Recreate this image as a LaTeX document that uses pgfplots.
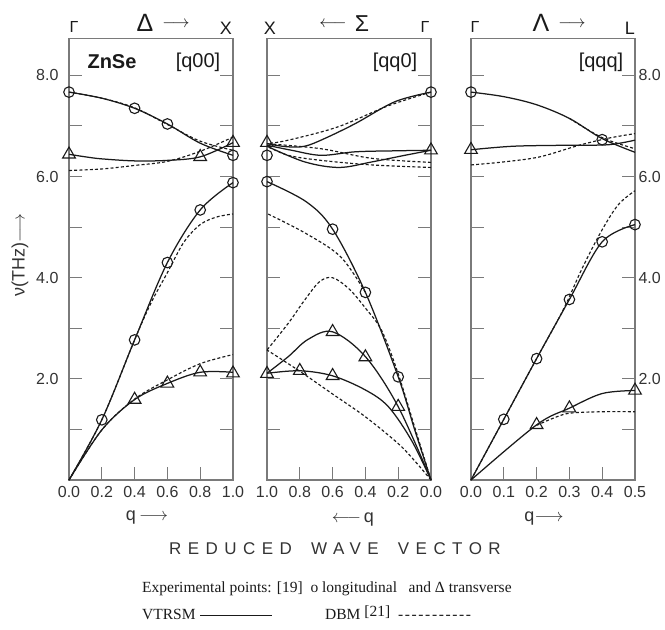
\documentclass[border=0pt]{standalone}
\usepackage{fix-cm}
\usepackage{fontspec}
\setmainfont{Liberation Serif}
\newfontfamily\arial{Liberation Sans}
\newfontfamily\arialsp[LetterSpace=38]{Liberation Sans}
\usepackage{pgfplots}
\pgfplotsset{compat=1.18}
\definecolor{frame}{HTML}{7A7A7A}
\definecolor{ink}{HTML}{1A1A1A}
\definecolor{lab}{HTML}{333333}
\newcommand{\fs}[1]{\fontsize{#1}{#1}\selectfont}
\pgfplotsset{
 panel/.style={scale only axis, width=164pt, height=441.5pt, ymin=0, ymax=8.73, xmin=0,
   clip=false, axis line style={frame, line width=1.1pt},
   tick style={frame, line width=1.0pt}, major tick length=13pt,
   tick align=inside, xtick pos=left, ytick pos=both,
   ytick={1,2,3,4,5,6,7,8},
   ticklabel style={font=\arial\fs{16}, text=lab},
   xticklabel style={yshift=-3pt},
   /pgf/number format/assume math mode=true},
 sol/.style={ink, line width=1.25pt, smooth, tension=0.55, mark=none},
 dsh/.style={ink, line width=1.15pt, smooth, tension=0.55, mark=none, dash pattern=on 3pt off 2.2pt},
 lp/.style={only marks, mark=o, mark size=5.3pt, mark options={ink, line width=1.1pt, solid}},
 tp/.style={only marks, mark=triangle, mark size=7.3pt, mark options={ink, line width=1.1pt, solid}},
}
\begin{document}
\begin{tikzpicture}
\useasboundingbox (0pt,0pt) rectangle (665pt,630pt);
% ---------- Panel 1 [q00]
\begin{axis}[panel, at={(69pt,150pt)}, anchor=south west, xmax=1,
  xtick={0,0.2,0.4,0.6,0.8,1}, xticklabels={0.0,0.2,0.4,0.6,0.8,1.0},
  yticklabel pos=left, ytick pos=both,
  yticklabels={,2.0,,4.0,,6.0,,8.0},
  yticklabel style={xshift=-7pt}]
\addplot[sol] coordinates {(0,7.67)(0.2,7.55)(0.4,7.35)(0.6,7.04)(0.8,6.66)(1,6.42)};
\addplot[dsh] coordinates {(0,7.67)(0.2,7.55)(0.4,7.36)(0.6,7.03)(0.8,6.70)(1,6.52)};
\addplot[sol] coordinates {(0,6.44)(0.1,6.39)(0.2,6.35)(0.4,6.31)(0.6,6.32)(0.8,6.39)(1,6.67)};
\addplot[dsh] coordinates {(0,6.12)(0.2,6.15)(0.4,6.22)(0.6,6.30)(0.8,6.50)(1,6.78)};
\addplot[sol] coordinates {(0,0)(0.2,1.19)(0.4,2.77)(0.6,4.30)(0.8,5.34)(1,5.88)};
\addplot[dsh] coordinates {(0,0)(0.2,1.19)(0.4,2.77)(0.5,3.50)(0.6,4.10)(0.7,4.70)(0.8,5.05)(0.9,5.20)(1,5.26)};
\addplot[sol] coordinates {(0,0)(0.2,0.99)(0.4,1.59)(0.6,1.91)(0.8,2.13)(1,2.13)};
\addplot[dsh] coordinates {(0,0)(0.2,0.99)(0.4,1.60)(0.6,1.98)(0.8,2.30)(1,2.48)};
\addplot[lp] coordinates {(0,7.67)(0.4,7.35)(0.6,7.04)(1,6.42)(1,5.88)(0.8,5.34)(0.6,4.30)(0.4,2.77)(0.2,1.19)};
\addplot[tp] coordinates {(0,6.44)(0.8,6.39)(1,6.67)(0.4,1.59)(0.6,1.91)(0.8,2.13)(1,2.11)};
\end{axis}
% ---------- Panel 2 [qq0]
\begin{axis}[panel, at={(267pt,150pt)}, anchor=south west, xmax=1, x dir=reverse,
  xtick={0,0.2,0.4,0.6,0.8,1}, xticklabels={0.0,0.2,0.4,0.6,0.8,1.0},
  yticklabels={,,,,,,,}]
\addplot[sol] coordinates {(0,7.67)(0.22,7.48)(0.46,7.05)(0.65,6.75)(0.77,6.60)(0.88,6.59)(1,6.65)};
\addplot[dsh] coordinates {(0,7.67)(0.26,7.40)(0.57,6.98)(0.87,6.72)(1,6.65)};
\addplot[sol] coordinates {(0,6.52)(0.2,6.51)(0.46,6.49)(0.67,6.42)(0.85,6.52)(1,6.62)};
\addplot[sol] coordinates {(0,6.52)(0.16,6.42)(0.36,6.29)(0.56,6.18)(0.77,6.29)(1,6.60)};
\addplot[dsh] coordinates {(0,6.28)(0.36,6.36)(0.67,6.55)(1,6.65)};
\addplot[dsh] coordinates {(0,6.18)(0.36,6.23)(0.67,6.32)(0.87,6.42)(1,6.60)};
\addplot[sol] coordinates {(0,0)(0.1,1.00)(0.2,2.04)(0.4,3.71)(0.6,4.96)(0.76,5.50)(1,5.90)};
\addplot[dsh] coordinates {(0.4,3.71)(0.55,4.41)(0.76,4.87)(1,5.27)};
\addplot[dsh] coordinates {(0,0)(0.1,1.05)(0.2,2.10)(0.3,2.95)(0.4,3.40)(0.5,3.78)(0.6,4.00)(0.68,3.92)(0.77,3.56)(0.87,3.10)(1,2.57)};
\addplot[dsh] coordinates {(0,0)(0.1,0.38)(0.2,0.72)(0.4,1.25)(0.6,1.70)(0.8,2.15)(1,2.57)};
\addplot[sol] coordinates {(0,0)(0.2,1.45)(0.4,2.44)(0.6,2.93)(0.75,2.78)(0.87,2.44)(1,2.11)};
\addplot[sol] coordinates {(0,0)(0.12,0.79)(0.26,1.45)(0.4,1.78)(0.6,2.06)(0.8,2.16)(1,2.11)};
\addplot[lp] coordinates {(0,7.67)(1,6.42)(1,5.90)(0.6,4.96)(0.4,3.71)(0.2,2.04)};
\addplot[tp] coordinates {(1,6.67)(0,6.52)(0.6,2.93)(0.4,2.43)(0.2,1.45)(1,2.10)(0.8,2.16)(0.6,2.06)};
\end{axis}
% ---------- Panel 3 [qqq]
\begin{axis}[panel, at={(471pt,150pt)}, anchor=south west, xmax=0.5,
  xtick={0,0.1,0.2,0.3,0.4,0.5}, xticklabels={0.0,0.1,0.2,0.3,0.4,0.5},
  yticklabel pos=right, ytick pos=both,
  yticklabels={,2.0,,4.0,,6.0,,8.0}]
\addplot[sol] coordinates {(0,7.67)(0.1,7.58)(0.2,7.42)(0.3,7.15)(0.4,6.75)(0.5,6.48)};
\addplot[dsh] coordinates {(0.3,7.15)(0.4,6.77)(0.5,6.55)};
\addplot[sol] coordinates {(0,6.53)(0.13,6.60)(0.3,6.62)(0.42,6.63)(0.5,6.72)};
\addplot[dsh] coordinates {(0,6.23)(0.1,6.29)(0.21,6.39)(0.33,6.62)(0.42,6.76)(0.5,6.85)};
\addplot[sol] coordinates {(0,0)(0.1,1.20)(0.2,2.40)(0.3,3.57)(0.4,4.71)(0.5,5.05)};
\addplot[dsh] coordinates {(0,0)(0.1,1.20)(0.2,2.40)(0.28,3.35)(0.34,4.20)(0.4,4.95)(0.45,5.45)(0.5,5.72)};
\addplot[sol] coordinates {(0,0)(0.2,1.09)(0.3,1.42)(0.4,1.71)(0.5,1.77)};
\addplot[dsh] coordinates {(0.2,1.08)(0.25,1.22)(0.3,1.32)(0.4,1.35)(0.5,1.35)};
\addplot[lp] coordinates {(0,7.67)(0.4,6.73)(0.5,5.05)(0.4,4.71)(0.3,3.57)(0.2,2.40)(0.1,1.20)};
\addplot[tp] coordinates {(0,6.53)(0.2,1.09)(0.3,1.42)(0.5,1.77)};
\end{axis}
% ---------- labels
\begin{scope}[x=1pt, y=1pt, every node/.style={inner sep=0pt, text=ink}]
\node at (74,603) {\arial\fs{16}Γ};
\node at (145,607) {\arial\fs{25}Δ};
\node at (176,606) {\fs{17}$\longrightarrow$};
\node at (226,602) {\arial\fs{18}X};
\node at (270,602) {\arial\fs{18}X};
\node at (333,606) {\fs{17}$\longleftarrow$};
\node at (362,606) {\arial\fs{23}Σ};
\node at (425,603) {\arial\fs{16}Γ};
\node at (475,603) {\arial\fs{16}Γ};
\node at (541,607) {\arial\fs{25}Λ};
\node at (572,606) {\fs{17}$\longrightarrow$};
\node at (630,602) {\arial\fs{18}L};
\node at (112,568) {\arial\bfseries\fs{20}ZnSe};
\node at (198,568) {\arial\fs{20}[q00]};
\node at (395,568) {\arial\fs{20}[qq0]};
\node at (601,568) {\arial\fs{20}[qqq]};
\node[rotate=90, text=lab] at (20,375) {\arial\fs{18}ν(THz)$\longrightarrow$};
\node[text=lab] at (147,112) {\arial\fs{18}q\,$\longrightarrow$};
\node[text=lab] at (353,110) {\arial\fs{18}$\longleftarrow$\,q};
\node[text=lab] at (544,111) {\arial\fs{18}q$\longrightarrow$};
\node[anchor=west, text=lab] at (169,81) {\arialsp\fs{17}REDUCED\hspace{8pt} WAVE\hspace{8pt} VECTOR};
\node[anchor=base west] at (142,37) {\fs{15.5}Experimental points: [19]\ \ o longitudinal\ \ \ and Δ transverse};
\node[anchor=base west] at (142,10) {\fs{15.5}VTRSM};
\draw[ink, line width=0.8pt] (200,14.5) -- (272,14.5);
\node[anchor=base west] at (325,10) {\fs{15.5}DBM \raisebox{3pt}{[21]}};
\node[anchor=base west] at (398,10) {\fs{15.5}-\kern1.6pt-\kern1.6pt-\kern1.6pt-\kern1.6pt-\kern1.6pt-\kern1.6pt-\kern1.6pt-\kern1.6pt-\kern1.6pt-\kern1.6pt-};
\end{scope}
\end{tikzpicture}
\end{document}
